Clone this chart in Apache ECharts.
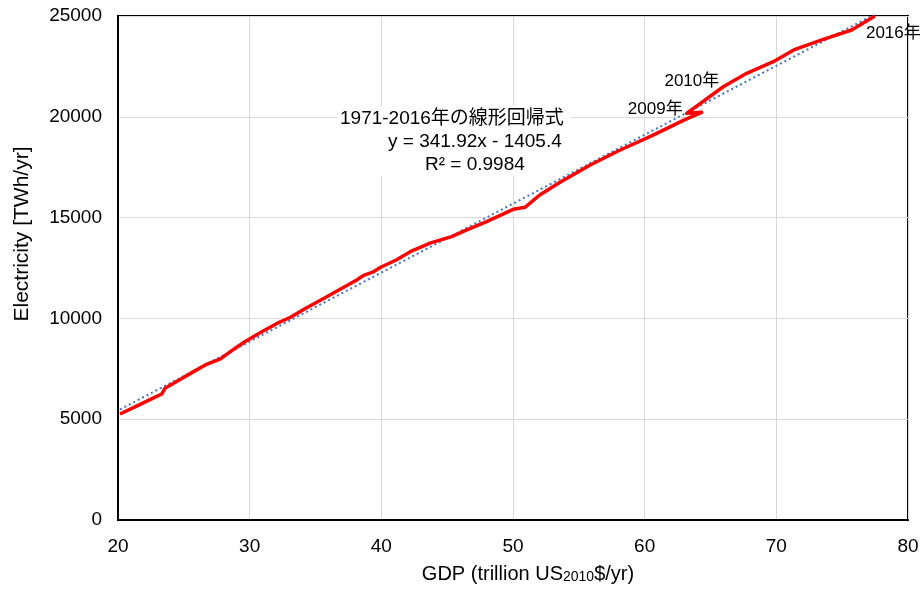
<!DOCTYPE html>
<html>
<head>
<meta charset="utf-8">
<script src="https://cdn.jsdelivr.net/npm/echarts@6/dist/echarts.min.js"></script>
<style>
html,body{margin:0;padding:0;background:#fff;}
#chart{width:923px;height:590px;}
</style>
</head>
<body>
<div id="chart"></div>
<script>
// Years 1971-2016
var years = [1971,1972,1973,1974,1975,1976,1977,1978,1979,1980,1981,1982,1983,1984,1985,1986,1987,1988,1989,1990,
             1991,1992,1993,1994,1995,1996,1997,1998,1999,2000,2001,2002,2003,2004,2005,2006,2007,2008,2009,2010,
             2011,2012,2013,2014,2015,2016];
// GDP (trillion US2010$/yr)
var gdp = [20.15,21.25,22.55,23.32,23.57,24.75,25.71,26.73,27.79,28.30,28.82,28.93,29.66,30.96,32.07,33.10,34.26,35.79,37.08,38.13,
           38.65,39.34,39.95,41.13,42.33,43.75,45.34,46.45,47.95,50.02,50.91,52.03,53.54,55.90,58.02,60.52,63.06,64.33,63.19,65.97,
           67.75,69.77,71.42,73.57,75.72,77.49];
// Electricity (TWh/yr)
var electricity = [5258,5602,6009,6250,6532,6982,7347,7724,7998,8239,8485,8534,8857,9347,9750,10058,10505,11051,11519,11904,
                   12136,12292,12536,12898,13353,13748,14059,14375,14784,15411,15510,16122,16744,17624,18316,19052,19863,20222,20172,21492,
                   22157,22732,23347,23843,24304,24998];
// Linear trend line endpoints (y = 341.92x - 1405.4)
var trendX = [20.15, 77.49];
var trendY = [5484, 25090];
var labelYears = [2009, 2010, 2016];
var xTicks = [20,30,40,50,60,70,80];
var yTicks = [0,5000,10000,15000,20000,25000];

var font = '"Liberation Sans", Arial, sans-serif';
var cjkFont = '"Liberation Sans", "Noto Sans CJK JP", sans-serif';

// label placement relative to the data point (pixel offsets, alignment)
var labelPos = {
  2009: {dx:-4, dy:-4, align:'right'},
  2010: {dx:-4, dy:-5, align:'right'},
  2016: {dx:-9, dy:17, align:'left'}
};

var mainData = gdp.map(function(g,i){ return [g, electricity[i]]; });

var chart = echarts.init(document.getElementById('chart'));
var option = {
  animation:false,
  backgroundColor:'#fff',
  grid:{left:118, right:15, top:16, bottom:70, show:true, borderColor:'#000', borderWidth:2, backgroundColor:'transparent'},
  xAxis:{
    type:'value', min:xTicks[0], max:xTicks[xTicks.length-1], interval:10,
    axisLine:{show:true, lineStyle:{color:'#000', width:2}},
    axisTick:{show:false},
    splitLine:{show:true, lineStyle:{color:'#d9d9d9', width:1}},
    axisLabel:{color:'#000', fontSize:19, fontFamily:font, margin:17},
    name:'{n|GDP (trillion US}{s|2010}{n|$/yr)}',
    nameLocation:'middle', nameGap:44,
    nameTextStyle:{padding:[0,0,0,30], rich:{
      n:{fontSize:20, fontFamily:font, color:'#000'},
      s:{fontSize:14, fontFamily:font, color:'#000', verticalAlign:'bottom', padding:[6,0,0,0]}
    }}
  },
  yAxis:{
    type:'value', min:yTicks[0], max:yTicks[yTicks.length-1], interval:5000,
    axisLine:{show:true, lineStyle:{color:'#000', width:2}},
    axisTick:{show:false},
    splitLine:{show:true, lineStyle:{color:'#d9d9d9', width:1}},
    axisLabel:{color:'#000', fontSize:19, fontFamily:font, margin:16, formatter:function(v){return String(v);}},
    name:'Electricity [TWh/yr]', nameLocation:'middle', nameGap:85,
    nameTextStyle:{color:'#000', fontSize:21, fontFamily:font, padding:[0,0,0,68]}
  },
  series:[
    {
      type:'line', name:'trend',
      data:[[trendX[0],trendY[0]],[trendX[1],trendY[1]]],
      showSymbol:false, symbol:'none', clip:true,
      lineStyle:{color:'#4472C4', width:2, type:[2,3]},
      z:3
    },
    {
      type:'line', name:'data',
      data:mainData,
      showSymbol:false, symbol:'none',
      clip:true,
      lineStyle:{color:'#ff0000', width:3.5, join:'round'},
      z:4
    }
  ],
  graphic:[
    {type:'rect', z:1, shape:{x:337, y:106, width:234, height:70}, style:{fill:'#fff'}},
    {type:'text', z:6, x:340, y:119, style:{text:'1971-2016年の線形回帰式', font:'19px ' + cjkFont, fill:'#000', verticalAlign:'middle'}},
    {type:'text', z:6, x:388, y:142, style:{text:'y = 341.92x - 1405.4', font:'19px ' + font, fill:'#000', verticalAlign:'middle'}},
    {type:'text', z:6, x:425, y:165, style:{text:'R² = 0.9984', font:'19px ' + font, fill:'#000', verticalAlign:'middle'}}
  ]
};
chart.setOption(option);

// Year labels placed at the data points through the chart's own coordinate system
var yearGraphics = labelYears.map(function(yr){
  var i = years.indexOf(yr);
  var pt = chart.convertToPixel({gridIndex:0}, [gdp[i], electricity[i]]);
  var p = labelPos[yr];
  return {type:'text', x:pt[0] + p.dx, y:pt[1] + p.dy, z:10,
    style:{text: yr + '年', font:'17px ' + cjkFont, fill:'#000', align:p.align, verticalAlign:'middle'}};
});
chart.setOption({graphic: option.graphic.concat(yearGraphics)});
</script>
</body>
</html>
